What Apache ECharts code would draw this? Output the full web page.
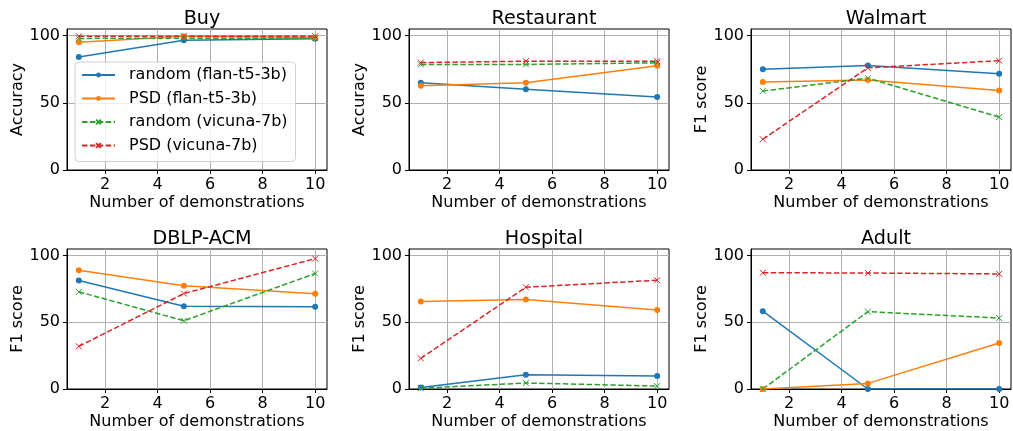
<!DOCTYPE html>
<html>
<head>
<meta charset="utf-8">
<script src="https://cdn.jsdelivr.net/npm/echarts@6/dist/echarts.min.js"></script>
<style>
  html, body { margin: 0; padding: 0; background: #fff; }
  #chart { width: 1013px; height: 431px; }
</style>
</head>
<body>
<div id="chart"></div>
<script>
// x values (number of demonstrations)
const demos = [1, 5, 10];
const xTicks = [2, 4, 6, 8, 10];
const yTicks = [0, 50, 100];

const seriesNames = ['random (flan-t5-3b)', 'PSD (flan-t5-3b)', 'random (vicuna-7b)', 'PSD (vicuna-7b)'];
const colors = ['#1f77b4', '#ff7f0e', '#2ca02c', '#d62728'];

// rows follow seriesNames order
const buy = [[84.2, 96.6, 97.8], [95.1, 99.6, 98.6], [98.0, 98.2, 98.2], [99.6, 99.6, 99.6]];
const restaurant = [[65.0, 60.2, 54.4], [62.8, 65.0, 77.6], [78.6, 78.6, 79.8], [80.0, 81.0, 81.0]];
const walmart = [[75.0, 77.9, 71.6], [65.5, 67.1, 59.2], [58.8, 68.4, 39.4], [22.9, 76.1, 81.4]];
const dblpAcm = [[81.4, 62.0, 61.6], [89.1, 77.4, 71.4], [72.9, 51.2, 86.6], [32.0, 71.6, 97.8]];
const hospital = [[1.2, 10.7, 9.8], [65.7, 67.2, 59.3], [0.6, 4.5, 2.2], [23.0, 76.3, 81.6]];
const adult = [[58.4, 0.0, 0.0], [0.0, 4.2, 34.5], [0.0, 58.0, 53.2], [87.2, 87.0, 86.3]];

const panels = [
  { title: 'Buy', yName: 'Accuracy', data: buy },
  { title: 'Restaurant', yName: 'Accuracy', data: restaurant },
  { title: 'Walmart', yName: 'F1 score', data: walmart },
  { title: 'DBLP-ACM', yName: 'F1 score', data: dblpAcm },
  { title: 'Hospital', yName: 'F1 score', data: hospital },
  { title: 'Adult', yName: 'F1 score', data: adult }
];

const FONT = 'DejaVu Sans';
const colLeft = [67, 409, 751];
const rowTop = [29, 249];
const W = 260, H = 141;

const crossPath = 'path://M0,0L10,10M10,0L0,10';

const chart = echarts.init(document.getElementById('chart'), null, { renderer: 'canvas' });

const grids = [], xAxes = [], yAxes = [], titles = [], series = [];

panels.forEach((p, i) => {
  const left = colLeft[i % 3];
  const top = rowTop[Math.floor(i / 3)];
  grids.push({
    left: left, top: top, width: W, height: H,
    show: true, borderColor: '#000', borderWidth: 1, backgroundColor: 'transparent'
  });
  titles.push({
    text: p.title,
    left: left + W / 2, top: top - 24,
    textAlign: 'center',
    textStyle: { fontFamily: FONT, fontSize: 19.2, fontWeight: 'normal', color: '#000' }
  });
  xAxes.push({
    gridIndex: i, type: 'value', min: 0.55, max: 10.45,
    name: 'Number of demonstrations', nameLocation: 'middle', nameGap: 25,
    nameTextStyle: { fontFamily: FONT, fontSize: 16, color: '#000' },
    axisLine: { show: true, lineStyle: { color: '#000', width: 1 } },
    axisTick: { show: true, inside: false, length: 4, customValues: xTicks, lineStyle: { color: '#000' } },
    axisLabel: { customValues: xTicks, margin: 7, fontFamily: FONT, fontSize: 16, color: '#000' },
    splitLine: { show: true, lineStyle: { color: '#b0b0b0', width: 1 } }
  });
  yAxes.push({
    gridIndex: i, type: 'value', min: 0, max: 105,
    name: p.yName, nameLocation: 'middle', nameGap: 41, nameRotate: 90,
    nameTextStyle: { fontFamily: FONT, fontSize: 16, color: '#000' },
    axisLine: { show: true, lineStyle: { color: '#000', width: 1 } },
    axisTick: { show: true, inside: false, length: 4, customValues: yTicks, lineStyle: { color: '#000' } },
    axisLabel: { customValues: yTicks, margin: 7, fontFamily: FONT, fontSize: 16, color: '#000' },
    splitLine: { show: true, lineStyle: { color: '#b0b0b0', width: 1 } }
  });
  p.data.forEach((vals, k) => {
    const isVicuna = k >= 2;
    series.push({
      name: seriesNames[k],
      type: 'line',
      xAxisIndex: i, yAxisIndex: i,
      data: demos.map((x, j) => [x, vals[j]]),
      symbol: isVicuna ? crossPath : 'circle',
      symbolSize: 6,
      showAllSymbol: true,
      color: colors[k],
      lineStyle: { color: colors[k], width: 1.5, type: isVicuna ? [5.5, 2.4] : 'solid' },
      itemStyle: isVicuna
        ? { color: 'transparent', borderColor: colors[k], borderWidth: 1 }
        : { color: colors[k], borderColor: colors[k], borderWidth: 0 },
      emphasis: { disabled: true },
      animation: false,
      z: 3
    });
  });
});

chart.setOption({
  animation: false,
  title: titles,
  grid: grids,
  xAxis: xAxes,
  yAxis: yAxes,
  legend: {
    data: seriesNames,
    orient: 'vertical',
    left: 75, top: 62,
    padding: [5, 8, 8, 6],
    itemGap: 7.5,
    itemWidth: 33,
    itemHeight: 6,
    backgroundColor: 'rgba(255,255,255,0.8)',
    borderColor: '#d0d0d0',
    borderWidth: 1,
    borderRadius: 4,
    textStyle: { fontFamily: FONT, fontSize: 16, lineHeight: 16, color: '#000', padding: [0, 0, 0, 9] },
    z: 10
  },
  series: series
});
</script>
</body>
</html>
